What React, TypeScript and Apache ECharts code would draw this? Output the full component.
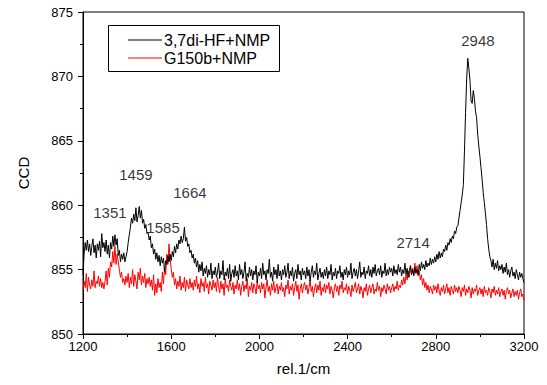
import React, { useEffect, useRef } from "react";
import * as echarts from "echarts";

const xStart = 1200;
const xStep = 5;

const blackValues = [
  854.6, 856.2, 857.1, 856.5, 857.3, 856.4, 857.0, 856.1, 856.8, 857.4, 856.3, 856.9, 855.9, 857.0, 856.5, 857.2, 856.0, 857.8, 856.7, 857.1,
  856.4, 857.3, 856.2, 856.9, 855.9, 857.1, 856.6, 857.6, 856.8, 857.7, 856.9, 857.4, 856.1, 856.5, 855.6, 856.2, 855.8, 856.3, 855.6, 856.0,
  856.4, 857.1, 857.7, 858.3, 859.0, 858.6, 859.3, 858.8, 859.8, 858.7, 859.2, 859.9, 859.0, 859.6, 858.6, 858.9, 858.2, 858.5, 857.8, 857.9,
  857.3, 857.6, 856.7, 857.0, 856.2, 856.6, 855.8, 856.3, 855.6, 856.1, 855.3, 856.0, 855.5, 855.9, 854.8, 855.7, 855.4, 856.1, 855.6, 856.2,
  855.7, 856.4, 856.0, 856.8, 856.3, 857.0, 856.6, 857.3, 857.0, 857.6, 857.1, 857.4, 858.3, 857.2, 857.5, 856.8, 857.0, 856.3, 856.5, 855.9,
  856.2, 855.5, 855.9, 855.2, 855.7, 854.8, 855.4, 854.9, 855.6, 854.5, 855.1, 854.7, 855.3, 854.4, 855.0, 854.6, 855.5, 854.3, 854.9, 854.6,
  855.2, 854.4, 854.8, 855.5, 854.3, 854.9, 854.6, 855.7, 854.2, 854.8, 854.5, 855.1, 854.3, 855.4, 854.1, 854.7, 855.0, 854.4, 855.3, 854.5,
  854.9, 854.2, 855.4, 854.6, 855.0, 854.3, 854.8, 855.6, 854.1, 854.7, 854.4, 855.2, 854.5, 855.0, 854.2, 854.9, 854.6, 855.3, 854.0, 854.8,
  854.5, 855.1, 854.3, 855.5, 854.6, 854.9, 854.2, 855.0, 854.7, 855.8, 854.4, 854.8, 854.1, 855.2, 854.6, 855.0, 854.3, 855.4, 854.5, 854.9,
  854.2, 855.0, 854.6, 855.3, 854.4, 854.8, 855.5, 854.3, 854.9, 854.5, 855.2, 854.1, 854.7, 855.0, 854.3, 855.4, 854.6, 854.9, 854.2, 855.1,
  854.6, 854.9, 854.3, 855.2, 854.5, 855.0, 854.1, 854.8, 855.3, 854.4, 854.9, 854.6, 855.5, 854.2, 854.7, 855.1, 854.4, 854.8, 854.3, 855.0,
  854.5, 855.2, 854.3, 854.9, 854.6, 855.4, 854.2, 854.8, 854.5, 855.1, 854.3, 854.9, 854.7, 855.3, 854.4, 854.8, 854.2, 855.0, 854.6, 855.2,
  854.4, 854.9, 854.6, 855.5, 854.3, 854.8, 855.1, 854.5, 855.0, 854.3, 854.9, 855.6, 854.4, 854.8, 854.6, 855.2, 854.3, 854.9, 854.7, 855.3,
  854.5, 855.0, 854.4, 855.2, 854.7, 855.4, 854.5, 854.9, 855.1, 854.6, 855.3, 854.4, 854.9, 854.7, 855.5, 854.5, 855.0, 854.6, 855.2, 854.8,
  855.1, 854.5, 855.3, 854.7, 855.0, 854.6, 855.4, 854.8, 855.2, 854.5, 855.0, 854.7, 855.5, 854.6, 855.1, 854.4, 854.9, 855.3, 854.6, 855.0,
  854.5, 855.2, 854.7, 855.0, 854.6, 855.4, 854.9, 855.6, 855.1, 855.4, 855.0, 855.7, 855.2, 855.5, 855.3, 855.9, 855.4, 855.8, 855.5, 856.0,
  855.6, 856.2, 855.8, 856.4, 855.9, 856.3, 856.0, 856.6, 856.4, 856.9, 856.5, 857.1, 856.9, 857.4, 857.1, 857.6, 857.4, 858.0, 857.8, 858.3,
  858.4, 859.0, 859.6, 860.2, 860.8, 861.6, 864.2, 867.2, 869.8, 871.4, 870.6, 869.7, 868.1, 867.9, 868.9, 868.3, 867.3, 866.8, 865.5, 864.6,
  863.8, 862.9, 862.0, 861.0, 860.2, 859.4, 858.5, 857.4, 856.6, 856.0, 855.7, 855.2, 855.8, 855.0, 855.5, 855.1, 855.7, 854.9, 855.3, 855.0,
  855.4, 854.7, 855.2, 854.8, 855.5, 854.6, 855.0, 854.4, 854.9, 855.2, 854.5, 854.8, 854.3, 855.0, 854.6, 854.2, 854.8, 854.4, 854.7, 854.3,
  854.0,
];

const redValues = [
  853.4, 854.1, 853.6, 854.7, 853.3, 854.4, 853.8, 853.5, 854.2, 853.7, 854.9, 853.6, 854.1, 853.9, 854.5, 853.7, 854.3, 853.6, 854.0, 853.5,
  854.1, 854.9, 853.8, 855.1, 854.4, 855.6, 855.2, 856.4, 855.5, 856.8, 855.4, 856.2, 855.6, 855.0, 854.4, 854.8, 854.0, 854.3, 853.8, 854.5,
  854.0, 854.7, 853.6, 854.4, 853.9, 855.0, 853.7, 854.6, 854.1, 853.5, 854.8, 854.2, 855.1, 853.8, 854.5, 854.0, 854.7, 853.6, 854.3, 853.9,
  854.4, 853.7, 854.2, 853.4, 854.6, 853.0, 853.9, 853.2, 854.3, 853.6, 854.0, 853.3, 854.8, 853.9, 855.2, 854.6, 856.2, 855.4, 857.0, 855.8,
  855.1, 854.4, 854.8, 853.8, 854.3, 853.5, 854.1, 853.7, 854.5, 853.4, 854.0, 853.6, 854.4, 853.3, 854.2, 853.8, 853.5, 854.3, 853.6, 854.0,
  853.4, 854.2, 853.7, 854.5, 853.5, 853.9, 853.2, 854.3, 853.7, 854.0, 853.3, 854.4, 853.6, 853.9, 853.1, 854.1, 853.8, 853.4, 854.2, 853.6,
  854.0, 853.3, 854.4, 853.7, 853.2, 854.1, 853.5, 853.9, 853.0, 854.3, 853.6, 853.8, 853.3, 854.2, 853.7, 853.4, 854.0, 853.1, 853.8, 853.5,
  854.2, 853.4, 853.9, 853.0, 853.7, 854.1, 853.3, 853.8, 853.5, 854.3, 852.9, 853.7, 853.4, 854.0, 853.2, 853.9, 853.6, 853.1, 854.1, 853.5,
  853.8, 853.2, 854.0, 853.5, 853.9, 852.8, 853.6, 854.2, 853.3, 853.7, 853.0, 853.9, 853.4, 854.1, 853.2, 853.6, 853.9, 853.1, 853.7, 853.4,
  854.0, 853.3, 853.6, 852.9, 853.8, 853.5, 854.2, 853.1, 853.7, 853.4, 853.9, 853.0, 853.6, 854.1, 853.3, 853.8, 852.7, 853.5, 853.9, 853.2,
  853.7, 854.0, 853.4, 853.8, 853.1, 853.6, 854.2, 853.3, 853.7, 852.9, 853.5, 853.9, 853.2, 853.8, 853.4, 854.1, 853.0, 853.6, 853.3, 853.9,
  853.2, 853.8, 853.5, 854.0, 853.1, 853.7, 853.4, 852.8, 853.6, 853.9, 853.3, 853.7, 853.0, 853.8, 853.5, 854.1, 853.2, 853.6, 853.4, 853.9,
  853.1, 853.7, 853.4, 852.9, 853.8, 853.3, 853.6, 854.0, 853.2, 853.5, 853.9, 853.1, 853.7, 853.4, 852.8, 853.6, 853.3, 853.9, 853.0, 853.5,
  853.8, 853.2, 853.6, 853.9, 853.1, 853.5, 853.3, 854.0, 853.4, 853.7, 852.9, 853.6, 853.3, 853.8, 853.5, 853.1, 853.9, 853.4, 853.7, 853.2,
  853.6, 853.9, 853.3, 853.7, 853.5, 854.1, 853.4, 853.8, 853.6, 854.2, 853.8, 854.4, 853.9, 854.6, 854.2, 854.9, 854.4, 855.3, 854.7, 855.1,
  854.6, 855.5, 854.9, 855.3, 854.5, 854.9, 854.2, 854.6, 853.8, 854.3, 853.6, 854.0, 853.4, 853.8, 853.2, 853.7, 853.5, 853.1, 853.8, 853.4,
  853.7, 853.2, 853.9, 853.4, 853.0, 853.6, 853.3, 853.8, 853.1, 853.5, 853.9, 853.2, 853.6, 853.0, 853.7, 853.4, 853.1, 853.8, 853.3, 853.6,
  853.2, 853.7, 853.4, 852.9, 853.6, 853.3, 853.8, 853.0, 853.5, 853.2, 853.7, 853.4, 852.8, 853.6, 853.1, 853.5, 853.3, 853.8, 853.0, 853.4,
  853.6, 853.1, 853.5, 852.9, 853.7, 853.2, 853.4, 853.0, 853.6, 853.3, 852.8, 853.5, 853.2, 853.7, 853.0, 853.4, 853.1, 853.6, 852.9, 853.3,
  853.5, 853.0, 853.4, 852.7, 853.3, 853.6, 853.1, 853.4, 852.8, 853.2, 853.5, 852.9, 853.3, 853.0, 853.4, 852.7, 853.2, 853.5, 852.9, 853.1,
  852.6,
];

const seriesNames = ["3,7di-HF+NMP", "G150b+NMP"];

const peakLabels = ["1351", "1459", "1585", "1664", "2714", "2948"];
const peakLabelX = [1322, 1440, 1563, 1685, 2697, 2991];
const peakLabelY = [859.4, 862.4, 858.3, 861.0, 857.1, 872.8];

const FONT = "'Liberation Sans', Arial, sans-serif";

export default function App() {
  const ref = useRef<HTMLDivElement>(null);

  useEffect(() => {
    if (!ref.current) return;
    const chart = echarts.init(ref.current, null, { renderer: "svg" });
    const toPairs = (vals: number[]) => vals.map((v, i) => [xStart + i * xStep, v]);
    const annotations = peakLabels.map((t, i) => [peakLabelX[i], peakLabelY[i], t]);

    chart.setOption({
      animation: false,
      backgroundColor: "#fff",
      textStyle: { fontFamily: FONT },
      grid: {
        left: 83,
        right: 23,
        top: 12,
        bottom: 51,
        show: true,
        borderColor: "#000",
        borderWidth: 1,
      },
      xAxis: {
        type: "value",
        min: 1200,
        max: 3200,
        interval: 400,
        name: "rel.1/cm",
        nameLocation: "middle",
        nameGap: 27,
        nameTextStyle: { fontSize: 15, color: "#000", fontFamily: FONT },
        axisLine: { lineStyle: { color: "#000", width: 1 } },
        axisTick: { show: true, length: 5, lineStyle: { color: "#000" } },
        minorTick: { show: true, splitNumber: 2, length: 3, lineStyle: { color: "#000" } },
        axisLabel: {
          fontSize: 13,
          color: "#000",
          margin: 6,
          fontFamily: FONT,
          formatter: (v: number) => String(v),
        },
        splitLine: { show: false },
      },
      yAxis: {
        type: "value",
        min: 850,
        max: 875,
        interval: 5,
        name: "CCD",
        nameLocation: "middle",
        nameRotate: 90,
        nameGap: 52,
        nameTextStyle: { fontSize: 15, color: "#000", fontFamily: FONT },
        axisLine: { show: true, lineStyle: { color: "#000", width: 1 } },
        axisTick: { show: true, length: 5, lineStyle: { color: "#000" } },
        minorTick: { show: true, splitNumber: 2, length: 3, lineStyle: { color: "#000" } },
        axisLabel: {
          fontSize: 13,
          color: "#000",
          margin: 10,
          fontFamily: FONT,
          formatter: (v: number) => String(v),
        },
        splitLine: { show: false },
      },
      series: [
        {
          name: seriesNames[1],
          type: "line",
          data: toPairs(redValues),
          symbol: "none",
          lineStyle: { color: "#ff0000", width: 1 },
          z: 2,
        },
        {
          name: seriesNames[0],
          type: "line",
          data: toPairs(blackValues),
          symbol: "none",
          lineStyle: { color: "#000", width: 1 },
          z: 3,
        },
        {
          name: "labels",
          type: "scatter",
          data: annotations,
          symbolSize: 1,
          itemStyle: { color: "rgba(0,0,0,0)" },
          label: {
            show: true,
            position: "inside",
            formatter: (p: any) => p.data[2],
            fontSize: 15,
            color: "#000",
            fontFamily: FONT,
          },
          z: 5,
        },
      ],
      graphic: [
        {
          type: "rect",
          shape: { x: 108.5, y: 25.5, width: 171, height: 46 },
          style: { fill: "#fff", stroke: "#000", lineWidth: 1 },
          z: 10,
        },
        {
          type: "line",
          shape: { x1: 128, y1: 40, x2: 162, y2: 40 },
          style: { stroke: "#000", lineWidth: 1 },
          z: 11,
        },
        {
          type: "line",
          shape: { x1: 128, y1: 58, x2: 162, y2: 58 },
          style: { stroke: "#ff0000", lineWidth: 1 },
          z: 11,
        },
        {
          type: "text",
          x: 164,
          y: 40,
          style: {
            text: seriesNames[0],
            font: `16px ${FONT}`,
            fill: "#000",
            verticalAlign: "middle",
          },
          z: 11,
        },
        {
          type: "text",
          x: 164,
          y: 58,
          style: {
            text: seriesNames[1],
            font: `16px ${FONT}`,
            fill: "#000",
            verticalAlign: "middle",
          },
          z: 11,
        },
      ],
    });
    return () => chart.dispose();
  }, []);

  return (
    <div
      ref={ref}
      style={{ position: "absolute", left: 0, top: 0, width: 547, height: 385 }}
    />
  );
}
